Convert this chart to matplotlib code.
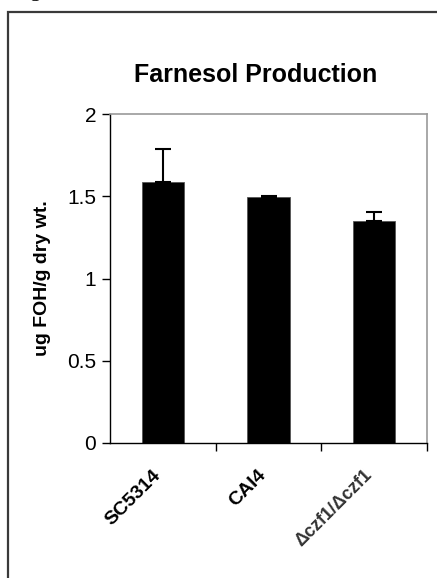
import matplotlib
matplotlib.use("Agg")
import matplotlib.pyplot as plt
from matplotlib.patches import Rectangle

categories = ["SC5314", "CAI4", "\u0394czf1/\u0394czf1"]
values = [1.585, 1.497, 1.352]
errors = [0.20, 0.005, 0.055]
yticks = [0, 0.5, 1, 1.5, 2]
ytick_labels = ["0", "0.5", "1", "1.5", "2"]
title = "Farnesol Production"
ylabel = "ug FOH/g dry wt."

plt.rcParams['font.family'] = ['Liberation Sans', 'DejaVu Sans']

W, H = 437, 578
fig = plt.figure(figsize=(W / 100, H / 100), dpi=100)

# outer frame
fig.patches.append(Rectangle((8 / W, -0.1), 1.2, (H - 12) / H + 0.1,
                             transform=fig.transFigure, fill=False,
                             edgecolor='#3a3a3a', linewidth=1.6))
fig.text(30 / W, 1 + 4 / H, "g", fontsize=16, family='Liberation Serif',
         ha='left', va='baseline', color='black')

ax = fig.add_axes([110 / W, 1 - 443 / H, (427 - 110) / W, (443 - 114) / H])
x = list(range(len(categories)))
ax.bar(x, values, width=0.4, color='black', edgecolor='#555555', linewidth=0.6, zorder=2)
ax.errorbar(x, values, yerr=[[0] * len(errors), errors], fmt='none', ecolor='black',
            elinewidth=1.5, capsize=6, capthick=1.5, zorder=3)

ax.set_xlim(-0.5, len(categories) - 0.5)
ax.set_ylim(0, 2)
ax.set_yticks(yticks)
ax.set_yticklabels(ytick_labels, fontsize=15)
ax.set_xticks([i + 0.5 for i in range(len(categories))])
ax.set_xticklabels([])
ax.tick_params(axis='y', direction='out', length=6, width=1, pad=4)
ax.tick_params(axis='x', direction='out', length=6, width=1)

for side in ['top', 'right']:
    ax.spines[side].set_color('#999999')
    ax.spines[side].set_linewidth(1.2)
for side in ['left', 'bottom']:
    ax.spines[side].set_color('black')
    ax.spines[side].set_linewidth(1.0)

for i, lab in enumerate(categories):
    ax.annotate(lab, xy=(i, 0), xycoords=('data', 'axes fraction'),
                xytext=(-8, -17), textcoords='offset points',
                rotation=45, rotation_mode='anchor', ha='right', va='top',
                fontsize=14 if i < 2 else 13, fontweight='bold',
                color='black' if i < 2 else '#333333')

ax.set_ylabel(ylabel, fontsize=14, fontweight='bold')
ax.yaxis.set_label_coords(-(110 - 51) / (427 - 110), 0.5)

fig.text(256 / W, 1 - 75 / H, title, fontsize=18, fontweight='bold',
         ha='center', va='center')

fig.savefig("out.png", dpi=100)
